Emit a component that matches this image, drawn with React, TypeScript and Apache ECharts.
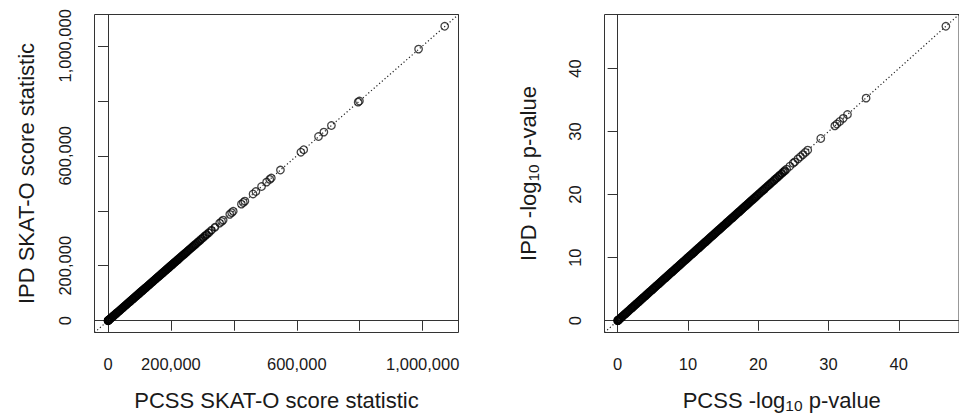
import React, { useEffect, useRef } from "react";
import * as echarts from "echarts";

// ---------- data ----------
// Left panel: SKAT-O score statistic (PCSS on x, IPD on y)
const skatTicks = [0, 200000, 400000, 600000, 800000, 1000000];
const skatLabelTicks = [0, 200000, 600000, 1000000];
// the solid band: points where PCSS and IPD coincide to plotting precision
const skatBand = [
  0, 300, 800, 1500, 2400, 3600, 5100, 7300, 9600, 12200, 14900, 17500, 20300, 22800, 25600, 28400,
  31000, 33700, 36500, 39100, 41800, 44600, 47200, 49900, 52700, 55300, 58000, 60800, 63400, 66100,
  68900, 71500, 74200, 77000, 79600, 82300, 85100, 87700, 90400, 93200, 95800, 98500, 101300, 103900,
  106600, 109400, 112000, 114700, 117500, 120100, 122800, 125600, 128200, 130900, 133700, 136300,
  139000, 141800, 144400, 147100, 149900, 152500, 155200, 158000, 160600, 163300, 166100, 168700,
  171400, 174200, 176800, 179500, 182300, 184900, 187600, 190400, 193000, 195700, 198500, 201100,
  203500, 206000, 208600, 211200, 213900, 216500, 219400, 222300, 225100, 228000, 231200, 234300,
  237500, 240800, 244100, 247300, 250900, 254400, 258000, 261700, 265500, 269300, 273400, 277600,
  282000, 286700, 291500, 296800, 302100, 308400, 313500, 320600, 328900, 340200,
];
const skatPcss = [
  355000, 361000, 366000, 387000, 393000, 398000, 424000, 430000, 435000, 461000, 470000, 488000,
  504000, 514000, 519000, 548000, 613000, 622000, 669000, 686000, 710000, 795000, 799000, 987000,
  1070000,
];
const skatIpd = [
  355000, 361000, 366000, 387000, 393000, 398000, 424000, 430000, 435000, 461000, 470000, 488000,
  504000, 514000, 519000, 548000, 613000, 622000, 670000, 686000, 710000, 795000, 799000, 988000,
  1071000,
];

// Right panel: -log10 p-value (PCSS on x, IPD on y)
const logpTicks = [0, 10, 20, 30, 40];
const logpBand = [
  0, 0.02, 0.05, 0.09, 0.14, 0.2, 0.27, 0.36, 0.48, 0.61, 0.73, 0.86, 1.0, 1.13, 1.27, 1.4, 1.54,
  1.67, 1.81, 1.95, 2.08, 2.22, 2.35, 2.49, 2.63, 2.76, 2.9, 3.03, 3.17, 3.31, 3.44, 3.58, 3.71,
  3.85, 3.99, 4.12, 4.26, 4.39, 4.53, 4.67, 4.8, 4.94, 5.07, 5.21, 5.35, 5.48, 5.62, 5.75, 5.89,
  6.03, 6.16, 6.3, 6.43, 6.57, 6.71, 6.84, 6.98, 7.11, 7.25, 7.39, 7.52, 7.66, 7.79, 7.93, 8.07,
  8.2, 8.34, 8.47, 8.61, 8.75, 8.88, 9.02, 9.15, 9.29, 9.43, 9.56, 9.7, 9.83, 9.97, 10.11, 10.24,
  10.38, 10.51, 10.65, 10.79, 10.92, 11.06, 11.19, 11.33, 11.47, 11.6, 11.74, 11.87, 12.01, 12.15,
  12.28, 12.42, 12.55, 12.69, 12.83, 12.96, 13.1, 13.23, 13.37, 13.51, 13.64, 13.78, 13.91, 14.05,
  14.19, 14.32, 14.46, 14.59, 14.73, 14.87, 15.0, 15.14, 15.27, 15.41, 15.55, 15.68, 15.82, 15.95,
  16.09, 16.23, 16.36, 16.5, 16.63, 16.77, 16.91, 17.04, 17.18, 17.31, 17.45, 17.59, 17.72, 17.86,
  17.99, 18.13, 18.27, 18.4, 18.54, 18.67, 18.81, 18.95, 19.08, 19.22, 19.4, 19.55, 19.72, 19.9,
  20.08, 20.25, 20.45, 20.63, 20.82, 21.0, 21.2, 21.4, 21.6, 21.8, 22.0, 22.22, 22.45, 22.66, 22.9,
  23.1, 23.35, 23.6, 23.8,
];
const logpPcss = [
  24.05, 24.5, 24.97, 25.2, 25.66, 26.0, 26.35, 26.7, 27.05, 28.9, 30.9, 31.2, 31.6, 32.1, 32.7,
  35.35, 46.7,
];
const logpIpd = [
  24.05, 24.5, 24.97, 25.2, 25.66, 26.0, 26.35, 26.7, 27.05, 28.9, 30.9, 31.2, 31.6, 32.1, 32.7,
  35.3, 46.7,
];

// ---------- helpers ----------
const FONT = "'Liberation Sans', Arial, Helvetica, sans-serif";
const INK = "#1a1a1a";
const LINE = "#333";

// R's default axis range: data range extended by 4% on each side
function rRange(values: number[]): [number, number] {
  const lo = Math.min(...values);
  const hi = Math.max(...values);
  const pad = (hi - lo) * 0.04;
  return [lo - pad, hi + pad];
}

function commas(v: number) {
  return Math.round(v).toLocaleString("en-US");
}

function makeAxis(
  gridIndex: number,
  range: [number, number],
  ticks: number[],
  labels: number[],
  name: string,
  nameGap: number,
  isY: boolean,
  fmt: (v: number) => string
) {
  return {
    type: "value",
    gridIndex,
    min: range[0],
    max: range[1],
    name,
    nameLocation: "middle",
    nameGap,
    nameRotate: isY ? 90 : 0,
    nameTextStyle: {
      fontFamily: FONT,
      fontSize: 22,
      color: INK,
      lineHeight: 26,
      align: "center",
      verticalAlign: "middle",
      rich: {
        sub: {
          fontFamily: FONT,
          fontSize: 15.5,
          color: INK,
          lineHeight: 15,
          verticalAlign: "bottom",
        },
      },
    },
    axisLine: { show: true, lineStyle: { color: LINE, width: 1 } },
    axisTick: {
      show: true,
      inside: false,
      length: 10,
      customValues: ticks,
      lineStyle: { color: LINE, width: 1 },
    },
    axisLabel: {
      show: true,
      customValues: labels,
      margin: isY ? 29.5 : 31,
      rotate: isY ? 90 : 0,
      align: "center",
      verticalAlign: "middle",
      fontFamily: FONT,
      fontSize: 16.5,
      color: INK,
      hideOverlap: false,
      formatter: (v: number) => fmt(v),
    },
    splitLine: { show: false },
  };
}

export default function App() {
  const ref = useRef<HTMLDivElement>(null);

  useEffect(() => {
    if (!ref.current) return;
    const chart = echarts.init(ref.current, null, { renderer: "svg" });

    const skatRange = rRange([...skatBand, ...skatPcss, ...skatIpd]);
    const logpRange = rRange([...logpBand, ...logpPcss, ...logpIpd]);

    const scatterBase = {
      type: "scatter",
      symbol: "circle",
      symbolSize: 7.5,
      itemStyle: { color: "rgba(0,0,0,0)", borderColor: "#111", borderWidth: 1.3 },
      silent: true,
      large: false,
      emphasis: { disabled: true },
      z: 3,
    };
    const bandBase = {
      ...scatterBase,
      symbolSize: 7,
      itemStyle: { color: "rgba(0,0,0,0)", borderColor: "#000", borderWidth: 1.8 },
    };
    const identityBase = {
      type: "line",
      symbol: "none",
      silent: true,
      clip: true,
      lineStyle: { color: "#222", width: 1.2, type: [1.2, 2.4] },
      z: 2,
    };

    const gridStyle = {
      show: true,
      borderColor: LINE,
      borderWidth: 1,
      backgroundColor: "transparent",
      containLabel: false,
    };

    chart.setOption({
      animation: false,
      backgroundColor: "#ffffff",
      grid: [
        { ...gridStyle, left: 94.5, top: 14.5, width: 364, height: 324 },
        { ...gridStyle, left: 604.5, top: 14.5, width: 364, height: 324 },
      ],
      xAxis: [
        makeAxis(0, skatRange, skatTicks, skatLabelTicks, "PCSS SKAT-O score statistic", 67.5, false, commas),
        makeAxis(1, logpRange, logpTicks, logpTicks, "PCSS -log{sub|10} p-value", 67.5, false, (v) => String(v)),
      ],
      yAxis: [
        makeAxis(0, skatRange, skatTicks, skatLabelTicks, "IPD SKAT-O score statistic", 68.5, true, commas),
        makeAxis(1, logpRange, logpTicks, logpTicks, "IPD -log{sub|10} p-value", 76.5, true, (v) => String(v)),
      ],
      series: [
        {
          ...identityBase,
          xAxisIndex: 0,
          yAxisIndex: 0,
          data: [
            [skatRange[0], skatRange[0]],
            [skatRange[1], skatRange[1]],
          ],
        },
        { ...bandBase, xAxisIndex: 0, yAxisIndex: 0, data: skatBand.map((v) => [v, v]) },
        {
          ...scatterBase,
          xAxisIndex: 0,
          yAxisIndex: 0,
          data: skatPcss.map((v, i) => [v, skatIpd[i]]),
        },
        {
          ...identityBase,
          xAxisIndex: 1,
          yAxisIndex: 1,
          data: [
            [logpRange[0], logpRange[0]],
            [logpRange[1], logpRange[1]],
          ],
        },
        { ...bandBase, xAxisIndex: 1, yAxisIndex: 1, data: logpBand.map((v) => [v, v]) },
        {
          ...scatterBase,
          xAxisIndex: 1,
          yAxisIndex: 1,
          data: logpPcss.map((v, i) => [v, logpIpd[i]]),
        },
      ],
    });

    return () => {
      chart.dispose();
    };
  }, []);

  return (
    <div
      ref={ref}
      style={{ position: "fixed", left: 0, top: 0, width: 959, height: 418, background: "#fff" }}
    />
  );
}
